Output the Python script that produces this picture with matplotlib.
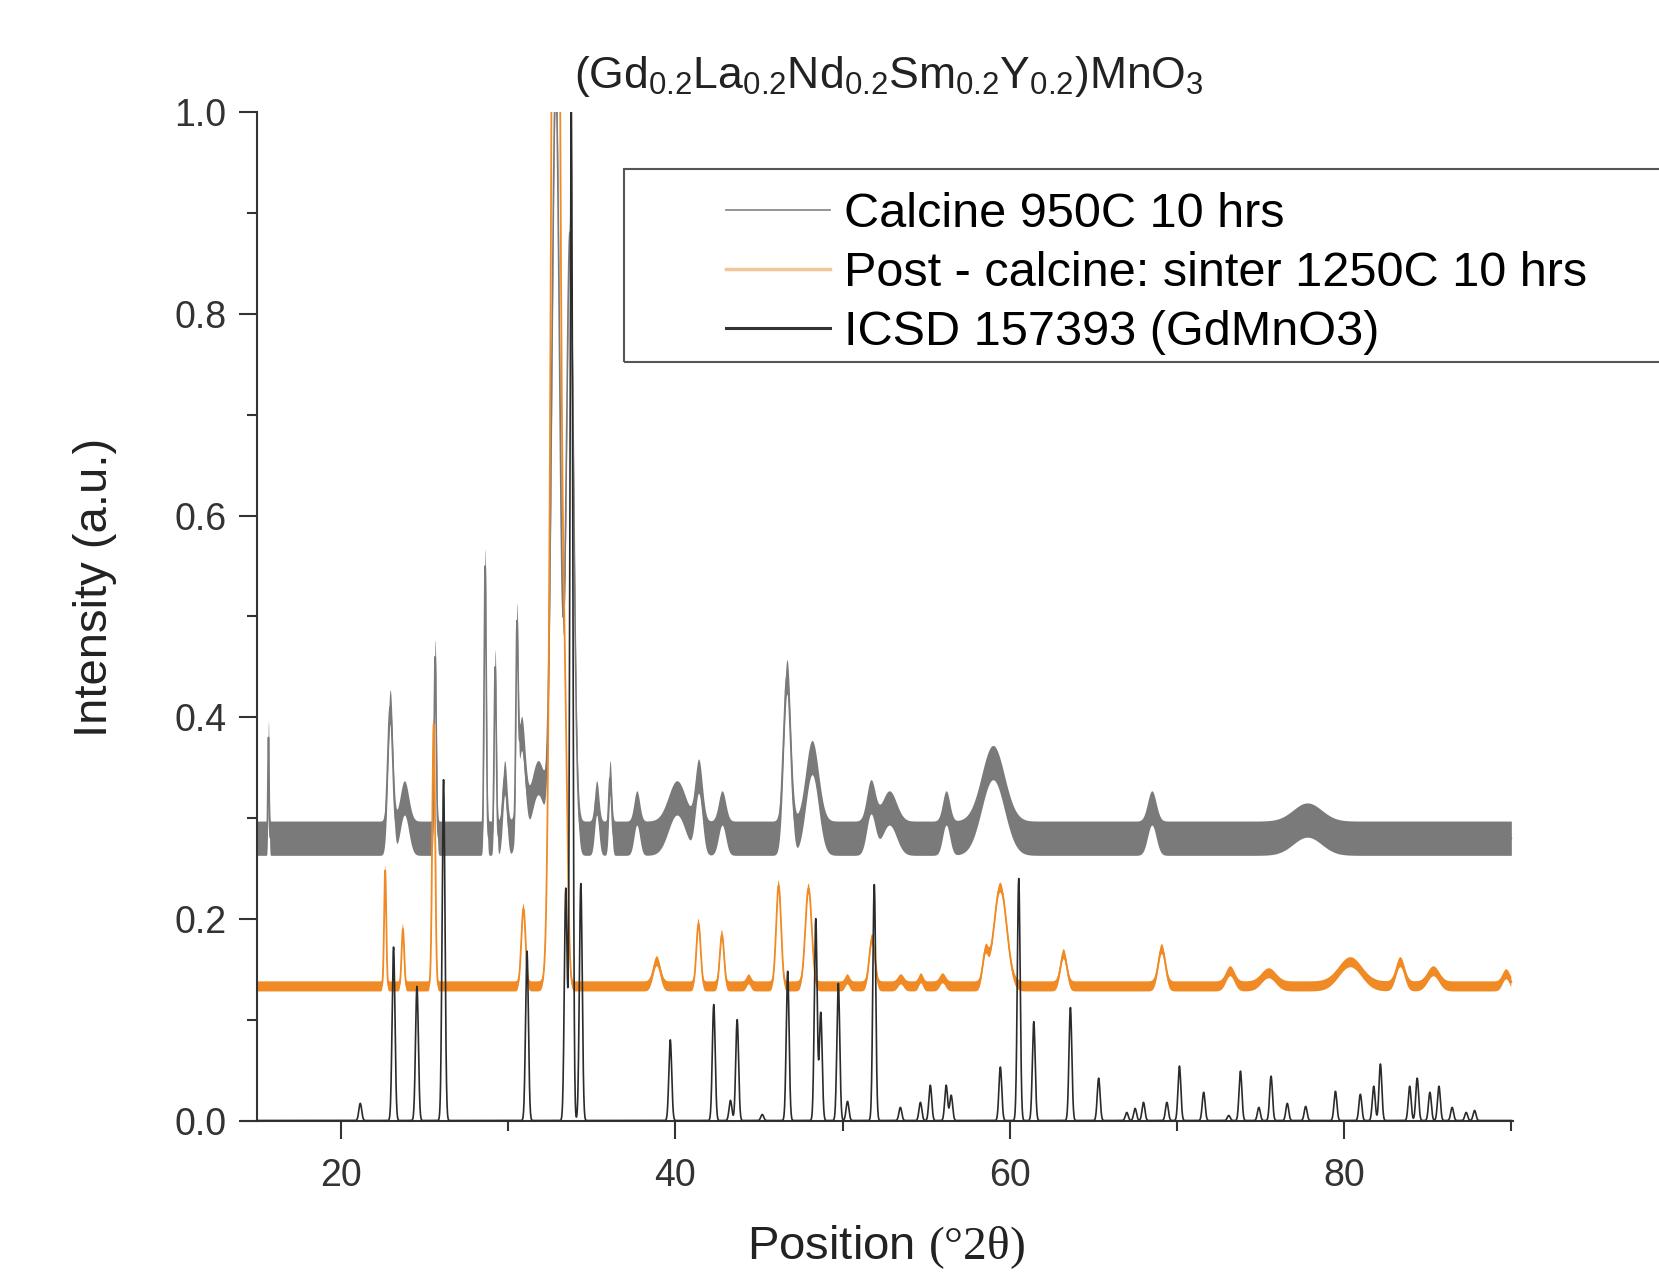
import matplotlib
matplotlib.use("Agg")
import matplotlib.pyplot as plt
import numpy as np
from matplotlib.lines import Line2D
from matplotlib.patches import Rectangle

plt.rcParams['font.family'] = ['Liberation Sans', 'DejaVu Sans']
plt.rcParams['mathtext.fontset'] = 'custom'
plt.rcParams['mathtext.rm'] = 'Liberation Serif'
plt.rcParams['mathtext.it'] = 'Liberation Serif:italic'
plt.rcParams['mathtext.bf'] = 'Liberation Serif:bold'
plt.rcParams['mathtext.sf'] = 'Liberation Sans'

# peak tables: position (deg 2theta), height above baseline, FWHM
calc_base = 0.28
calc_noise = 0.017
calc_pos = [15.67, 22.95, 23.8, 25.64, 28.63, 29.23, 29.8, 30.53, 30.8, 31.8, 32.85, 33.7,
            35.3, 36.1, 37.7, 40.1, 41.4, 42.8, 46.68, 48.18, 51.7, 52.8, 56.2, 59.0, 68.5, 77.8]
calc_h = [0.10, 0.13, 0.04, 0.18, 0.27, 0.17, 0.06, 0.17, 0.10, 0.06, 0.75, 0.60,
          0.04, 0.06, 0.03, 0.04, 0.06, 0.03, 0.16, 0.08, 0.04, 0.03, 0.03, 0.075, 0.03, 0.018]
calc_w = [0.08, 0.35, 0.6, 0.15, 0.15, 0.15, 0.3, 0.15, 0.5, 1.0, 0.55, 0.5,
          0.3, 0.2, 0.4, 1.2, 0.5, 0.5, 0.5, 0.9, 0.6, 1.0, 0.5, 1.6, 0.6, 2.0]

sint_base = 0.133
sint_noise = 0.005
sint_pos = [22.65, 23.71, 25.55, 30.92, 32.85, 33.4, 38.9, 41.39, 42.79, 44.4, 46.18, 47.97,
            50.3, 51.77, 53.5, 54.7, 56.0, 58.55, 59.44, 63.23, 69.1, 73.2, 75.5, 80.38,
            83.37, 85.35, 89.7]
sint_h = [0.115, 0.057, 0.26, 0.077, 1.6, 0.23, 0.025, 0.062, 0.051, 0.007, 0.10, 0.097,
          0.007, 0.047, 0.007, 0.008, 0.008, 0.03, 0.098, 0.032, 0.037, 0.015, 0.013, 0.024,
          0.024, 0.015, 0.012]
sint_w = [0.15, 0.18, 0.2, 0.3, 0.55, 0.35, 0.5, 0.3, 0.3, 0.3, 0.35, 0.45,
          0.3, 0.4, 0.4, 0.3, 0.4, 0.4, 0.9, 0.45, 0.5, 0.6, 1.0, 1.6,
          0.6, 0.8, 0.5]

icsd_pos = [21.16, 23.15, 24.55, 26.14, 31.13, 33.45, 33.78, 34.35, 39.7, 42.3, 43.3, 43.7,
            45.2, 46.72, 48.4, 48.7, 49.75, 50.3, 51.9, 53.46, 54.66, 55.25, 56.2, 56.5,
            59.44, 60.54, 61.44, 63.63, 65.32, 67.0, 67.5, 68.0, 69.4, 70.15, 71.6, 73.1,
            73.8, 74.9, 75.63, 76.6, 77.7, 79.48, 80.97, 81.77, 82.17, 83.92, 84.37, 85.13,
            85.67, 86.46, 87.3, 87.8]
icsd_h = [0.017, 0.172, 0.133, 0.338, 0.168, 0.23, 1.0, 0.235, 0.08, 0.115, 0.02, 0.10,
          0.006, 0.148, 0.20, 0.107, 0.136, 0.019, 0.234, 0.013, 0.018, 0.035, 0.035, 0.025,
          0.053, 0.24, 0.098, 0.112, 0.042, 0.008, 0.012, 0.018, 0.018, 0.054, 0.028, 0.005,
          0.049, 0.013, 0.044, 0.017, 0.014, 0.029, 0.026, 0.034, 0.056, 0.034, 0.042, 0.028,
          0.034, 0.013, 0.008, 0.01]
icsd_w = 0.2

labels = ['Calcine 950C 10 hrs', 'Post - calcine: sinter 1250C 10 hrs', 'ICSD 157393 (GdMnO3)']
c_gray = '#7a7a7a'
c_orange = '#f08a24'
c_black = '#2b2b2b'


def profile(x, base, pos, h, w):
    y = np.full_like(x, base)
    w = np.broadcast_to(w, np.shape(pos))
    for p, a, fw in zip(pos, h, w):
        y += a * np.exp(-4 * np.log(2) * ((x - p) / fw) ** 2)
    return y


x = np.arange(15.0, 90.0001, 0.01)
y_calc = profile(x, calc_base, calc_pos, calc_h, calc_w)
y_sint = profile(x, sint_base, sint_pos, sint_h, sint_w)
y_icsd = profile(x, 0.0, icsd_pos, icsd_h, icsd_w)

fig = plt.figure(figsize=(16.59, 12.8), dpi=100)
ax = fig.add_axes([0.1455, 0.1246, 0.7665, 0.7877])

ax.fill_between(x, y_calc - calc_noise, y_calc + calc_noise, color=c_gray, lw=0, zorder=1)
ax.plot(x, y_calc, color=c_gray, lw=1.2, zorder=1)
ax.fill_between(x, y_sint - sint_noise, y_sint + sint_noise, color=c_orange, lw=0, zorder=2)
ax.plot(x, y_sint, color=c_orange, lw=1.3, zorder=2)
ax.plot(x, y_icsd, color=c_black, lw=1.2, zorder=3)

ax.set_xlim(14.05, 90.1)
ax.set_ylim(0, 1.0)
ax.spines['left'].set_position(('data', 15))
ax.spines['top'].set_visible(False)
ax.spines['right'].set_visible(False)
for s in ('left', 'bottom'):
    ax.spines[s].set_color('#333333')
    ax.spines[s].set_linewidth(1.5)

ax.set_xticks([20, 40, 60, 80])
ax.set_xticks([30, 50, 70, 90], minor=True)
ax.set_yticks(np.arange(0, 1.01, 0.2))
ax.set_yticks(np.arange(0.1, 1.0, 0.2), minor=True)
ax.set_yticklabels(['0.0', '0.2', '0.4', '0.6', '0.8', '1.0'])
ax.tick_params(which='major', direction='out', length=13, width=1.5, color='#333333',
               labelsize=27, labelcolor='#333333')
ax.tick_params(axis='x', which='major', pad=14)
ax.tick_params(axis='y', which='major', pad=9)
ax.tick_params(which='minor', direction='out', length=7, width=1.5, color='#333333')

fig.text(0.536, 0.94, r'(Gd$_{\mathsf{0.2}}$La$_{\mathsf{0.2}}$Nd$_{\mathsf{0.2}}$Sm$_{\mathsf{0.2}}$Y$_{\mathsf{0.2}}$)MnO$_{\mathsf{3}}$',
         ha='center', va='center', fontsize=32, color='#222222')
fig.text(0.534, 0.016, r'Position $\mathrm{(°2\theta)}$', ha='center', va='baseline',
         fontsize=34, color='#222222')
fig.text(0.057, 0.541, 'Intensity (a.u.)', ha='center', va='center', rotation=90,
         fontsize=34, color='#222222')

# legend frame runs past the right edge of the figure
fig.patches.append(Rectangle((0.376, 0.717), 0.7, 0.151, transform=fig.transFigure,
                             fill=False, edgecolor='#555555', lw=1.5))
handles = [Line2D([], [], color='#8c8c8c', lw=1.3),
           Line2D([], [], color='#f5c59a', lw=2.5),
           Line2D([], [], color='#333333', lw=2.2)]
fig.legend(handles, labels, loc='upper left', bbox_to_anchor=(0.4376, 0.850),
           frameon=False, fontsize=35, handlelength=2.15, handletextpad=0.28,
           labelspacing=0.29, borderpad=0, borderaxespad=0)

fig.savefig('out.png', dpi=100)
